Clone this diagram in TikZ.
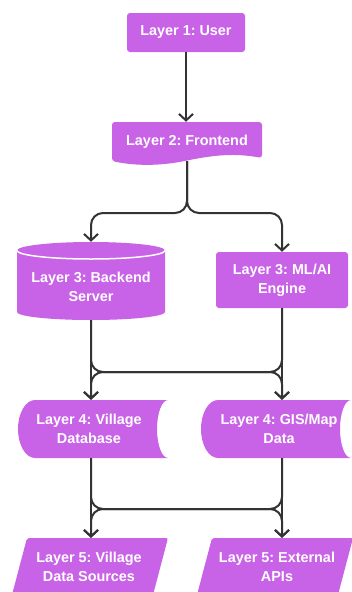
\documentclass[tikz,border=0pt]{standalone}
\usepackage{fontspec}
\setmainfont{Liberation Sans}
\usetikzlibrary{arrows.meta}
\definecolor{layerfill}{HTML}{C862E6}
\definecolor{linkc}{HTML}{333333}
\frenchspacing
\begin{document}
\begin{tikzpicture}[x=1pt,y=-1pt,
  body/.style={fill=layerfill},
  txt/.style={text=white,font=\fontsize{14.4}{19}\selectfont\bfseries,align=center,inner sep=0pt},
  link/.style={draw=linkc,line width=2pt,rounded corners=12pt,
    -{Straight Barb[length=6.5pt,width=14pt,line width=2pt]}}]
\fill[white] (0,0) rectangle (352,592);
\useasboundingbox (0,0) rectangle (352,592);

% ---- shapes ----
% layer 1: user box
\fill[body,rounded corners=3pt] (127,13) rectangle (245,52);
% layer 2: document shape with wavy bottom
\fill[body,rounded corners=3pt] (112,161) -- (112,122) -- (262,122) -- (262,158)
  .. controls (235,153) and (215,155) .. (187,160.5)
  .. controls (160,166) and (135,166) .. (112,161) -- cycle;
% layer 3: cylinder
\fill[body] (17,250.5) -- (17,312) arc[start angle=180,end angle=360,x radius=74pt,y radius=8pt]
  -- (165,250.5) arc[start angle=0,end angle=180,x radius=74pt,y radius=8.5pt] -- cycle;
\draw[white,line width=1.5pt] (17,250.5) arc[start angle=180,end angle=360,x radius=74pt,y radius=8.5pt];
% layer 3: engine box
\fill[body,rounded corners=3pt] (216,252) rectangle (348,308);
% layer 4: stored-data shapes
\fill[body] (35,400) -- (168,400) arc[start angle=90,end angle=270,x radius=11pt,y radius=29pt]
  -- (35,458) arc[start angle=270,end angle=90,x radius=17pt,y radius=29pt] -- cycle;
\fill[body] (218,400) -- (351,400) arc[start angle=90,end angle=270,x radius=11pt,y radius=29pt]
  -- (218,458) arc[start angle=270,end angle=90,x radius=17pt,y radius=29pt] -- cycle;
% layer 5: parallelograms
\fill[body,rounded corners=2pt] (27,538) -- (168,538) -- (152.7,596) -- (11.7,596) -- cycle;
\fill[body,rounded corners=2pt] (212,538) -- (353,538) -- (337.7,596) -- (196.7,596) -- cycle;

% ---- nodes ----
\node[txt,minimum width=118pt,minimum height=39pt] (u) at (186,32.5) {Layer 1: User};
\node[txt,minimum width=150pt,minimum height=39pt] (fe) at (187,141.5) {Layer 2: Frontend};
\node[txt,minimum width=148pt,minimum height=78pt,
  label={[txt,yshift=-6pt]center:{Layer 3: Backend\\Server}}] (be) at (91,281) {};
\node[txt,minimum width=132pt,minimum height=56pt] (ml) at (282,280) {Layer 3: ML/AI\\Engine};
\node[txt,minimum width=150pt,minimum height=58pt] (db) at (89,429) {Layer 4: Village\\Database};
\node[txt,minimum width=146pt,minimum height=58pt] (gis) at (279,429) {Layer 4: GIS/Map\\Data};
\node[txt,minimum width=141pt,minimum height=58pt] (src) at (89,567) {Layer 5: Village\\Data Sources};
\node[txt,minimum width=141pt,minimum height=58pt] (api) at (277,567) {Layer 5: External\\APIs};

\coordinate (splitA) at (0,213);
\coordinate (joinB) at (0,372);
\coordinate (joinC) at (0,509);

% ---- connectors ----
\draw[link] (u.south) -- (u.south |- fe.north);
\draw[link] (fe.south) -- (fe.south |- splitA) -| (be.north);
\draw[link] (fe.south) -- (fe.south |- splitA) -| (ml.north);
\draw[link] (be.south) -- (be.south |- db.north);
\draw[link] (be.south) -- (be.south |- joinB) -| (ml.south |- gis.north);
\draw[link] (ml.south) -- (ml.south |- gis.north);
\draw[link] (ml.south) -- (ml.south |- joinB) -| (be.south |- db.north);
\draw[link] (be.south |- db.south) -- (be.south |- src.north);
\draw[link] (be.south |- db.south) -- (be.south |- joinC) -| (ml.south |- api.north);
\draw[link] (ml.south |- gis.south) -- (ml.south |- api.north);
\draw[link] (ml.south |- gis.south) -- (ml.south |- joinC) -| (be.south |- src.north);
\end{tikzpicture}
\end{document}
